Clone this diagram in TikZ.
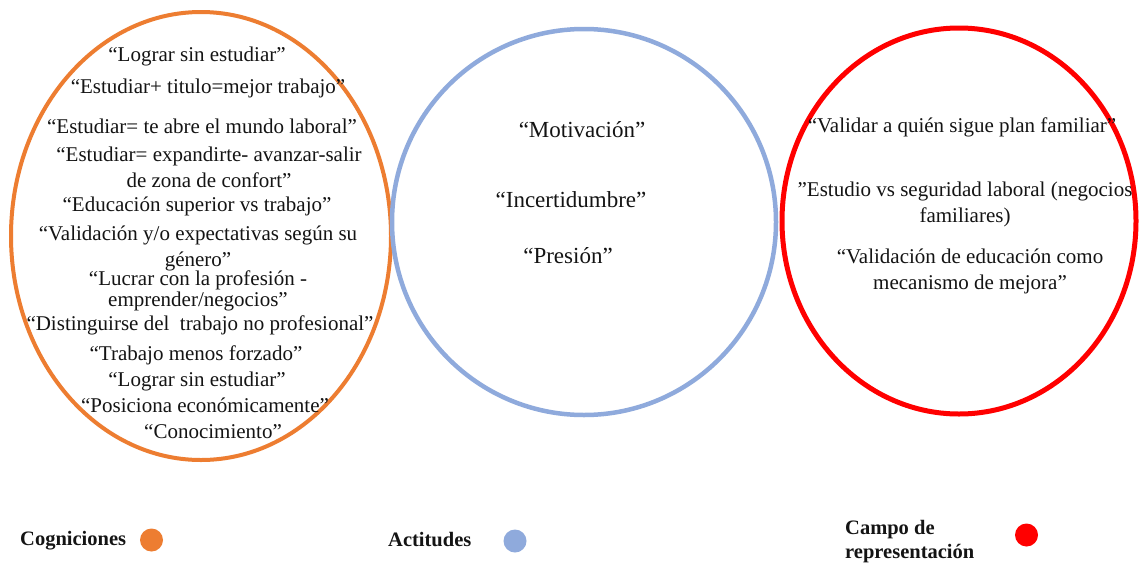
\documentclass[tikz,border=0pt]{standalone}
\usepackage{fontspec}
\usetikzlibrary{shapes.geometric}
\setmainfont{Liberation Serif}
\definecolor{cogorange}{RGB}{237,125,49}
\definecolor{actblue}{RGB}{143,170,220}
\definecolor{campred}{RGB}{255,0,0}
\definecolor{txt}{RGB}{20,20,20}
\begin{document}
\begin{tikzpicture}[x=1pt,y=-1pt,
  quote/.style={inner sep=0pt,align=center,text=txt,font=\fontsize{21}{26}\selectfont},
  bigquote/.style={quote,font=\fontsize{23}{27}\selectfont},
  legend/.style={inner sep=0pt,align=left,text=txt,font=\bfseries\fontsize{20.5}{24}\selectfont},
  dot/.style={circle,minimum size=23pt,inner sep=0pt}]
\useasboundingbox[fill=white] (0,0) rectangle (1139,565);

% the three fields
\draw[cogorange,line width=4pt] (201,236) ellipse [x radius=190,y radius=224];
\draw[actblue,line width=4.5pt] (584,222) ellipse [x radius=192,y radius=193];
\draw[campred,line width=5pt] (959,221) ellipse [x radius=177,y radius=193];

% cognitions
\node[quote] (c1) at (197,56) {“Lograr sin estudiar”};
\node[quote] (c2) at (208,88) {“Estudiar+ titulo=mejor trabajo”};
\node[quote] (c3) at (202,126) {“Estudiar= te abre el mundo laboral”};
\node[quote] (c4) at (209,167) {“Estudiar= expandirte- avanzar-salir\\de zona de confort”};
\node[quote] (c5) at (197,206) {“Educación superior vs trabajo”};
\node[quote] (c6) at (198,248) {“Validación y/o expectativas según su\\género”};
\node[quote] (c7) at (198,291) {“Lucrar con la profesión -\\[-5pt]emprender/negocios”};
\node[quote] (c8) at (200,325) {“Distinguirse del\ \ trabajo no profesional”};
\node[quote] (c9) at (196,355) {“Trabajo menos forzado”};
\node[quote] (c10) at (197,381) {“Lograr sin estudiar”};
\node[quote] (c11) at (205,405) {“Posiciona económicamente”};
\node[quote] (c12) at (213,432) {“Conocimiento”};

% attitudes
\node[bigquote] (a1) at (582,130) {“Motivación”};
\node[bigquote] (a2) at (571,200) {“Incertidumbre”};
\node[bigquote] (a3) at (568,256) {“Presión”};

% field of representation
\node[quote] (r1) at (962,127) {“Validar\ a quién sigue plan familiar”};
\node[quote] (r2) at (965,204) {”Estudio vs seguridad laboral (negocios\\familiares)};
\node[quote] (r3) at (970,271) {“Validación de educación como\\mecanismo de mejora”};

% legend
\node[legend,anchor=west] (lc) at (20,541) {Cogniciones};
\node[dot,fill=cogorange] (dc) at (151.5,540) {};
\node[legend,anchor=west] (la) at (388,540) {Actitudes};
\node[dot,fill=actblue] (da) at (515,541) {};
\node[legend,anchor=west] (lr) at (845,542) {Campo de\\representación};
\node[dot,fill=campred] (dr) at (1026.5,535) {};
\end{tikzpicture}
\end{document}
